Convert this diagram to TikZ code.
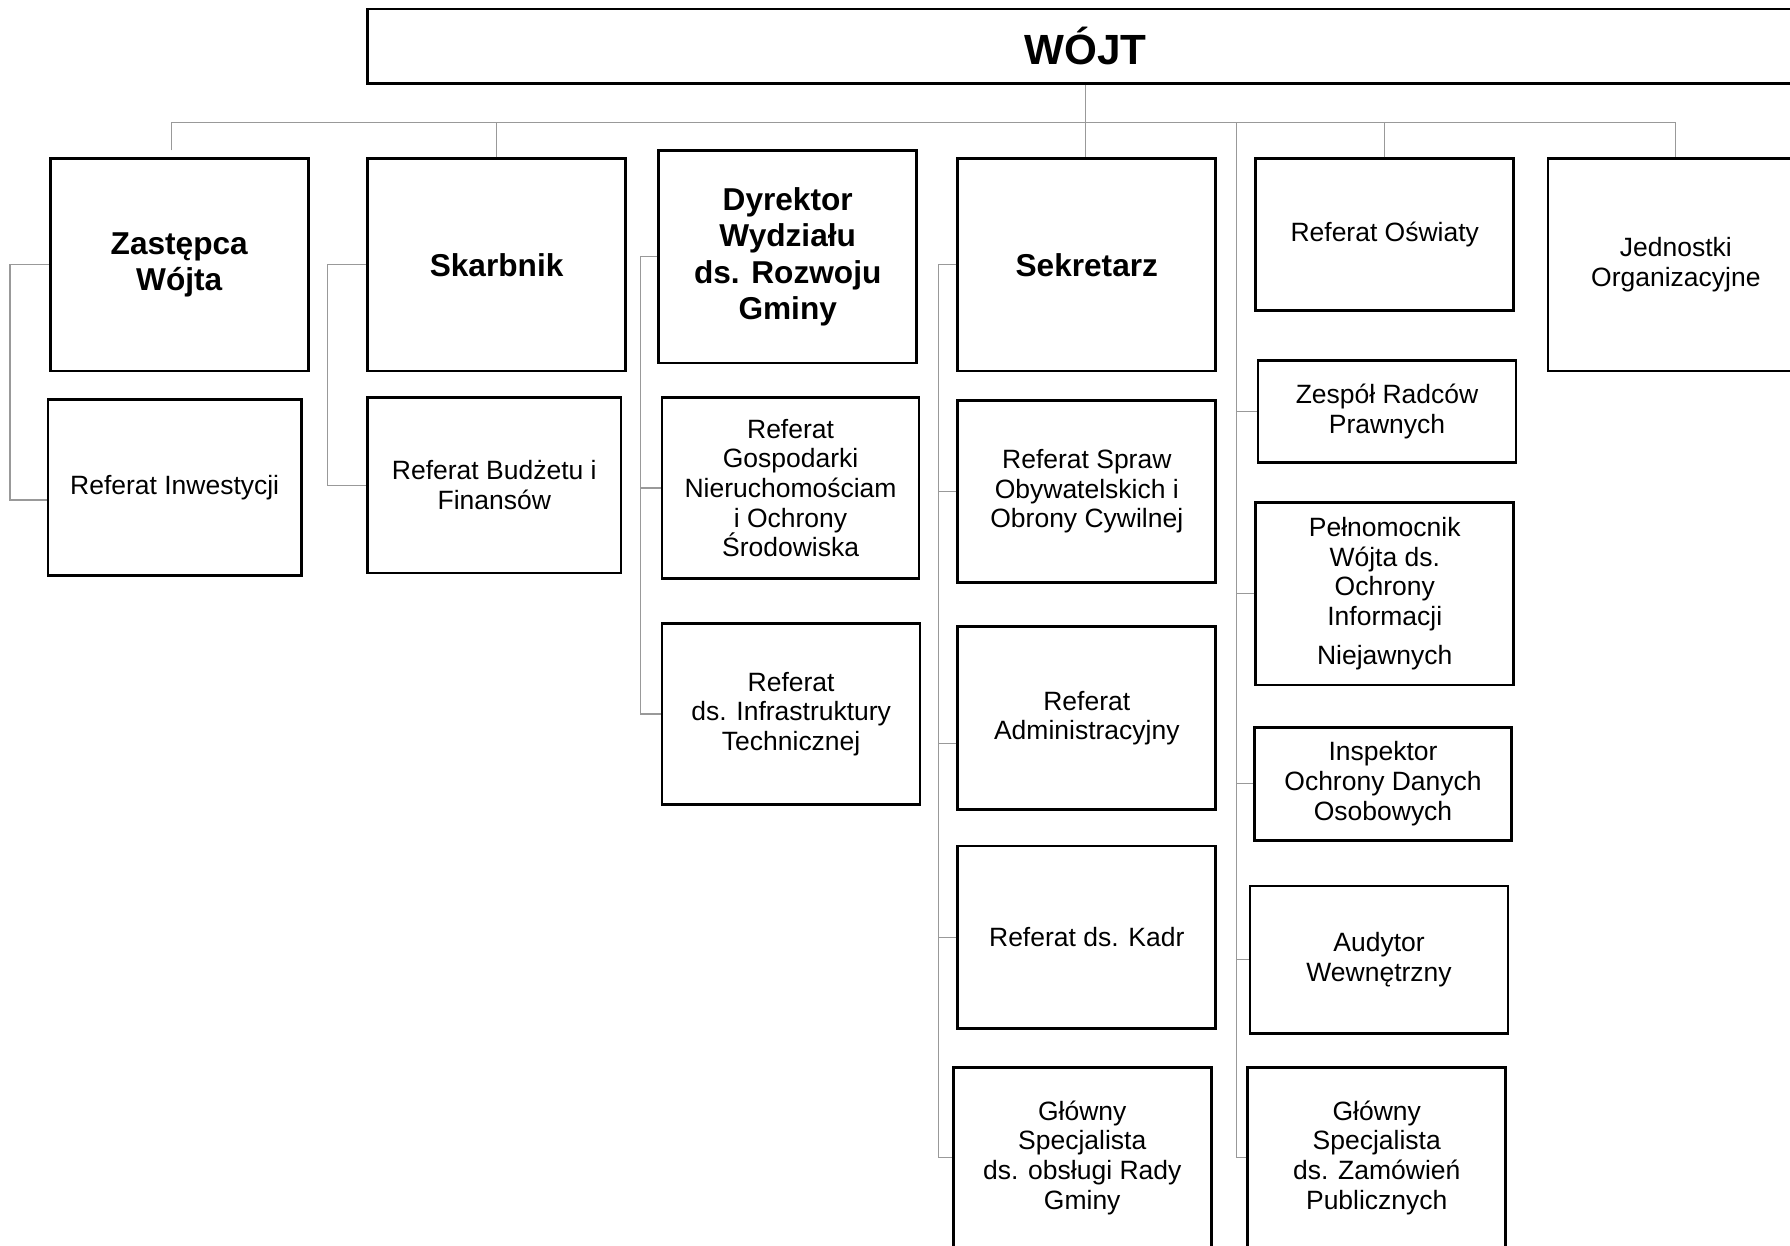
\documentclass[tikz,border=0pt]{standalone}
\usepackage{fontspec}
\setmainfont{Liberation Sans}
\usetikzlibrary{calc}

\begin{document}
\begin{tikzpicture}[
  x=1pt, y=-1pt,
  box/.style={rectangle, draw, line width=2.4pt, minimum width=226pt, align=center, inner sep=2pt,
    font=\fontsize{23.2}{26}\selectfont},
  head/.style={box, minimum height=186pt, font=\fontsize{27.7}{32}\selectfont\bfseries},
  link/.style={draw=black!40, line width=1.1pt}
]
  \useasboundingbox (0,0) rectangle (1568,1091);

  \node[box, minimum width=1258pt, minimum height=65pt, font=\fontsize{37}{40}\selectfont\bfseries] (wojt) at (951,40.5) {WÓJT};

  \node[head] (zastepca) at (157,232) {Zastępca\\Wójta};
  \node[head] (skarbnik) at (435,232) {Skarbnik};
  \node[head] (dyrektor) at (690,225) {Dyrektor\\Wydziału\\ds. Rozwoju\\Gminy};
  \node[head] (sekretarz) at (952,232) {Sekretarz};
  \node[box, minimum height=133pt] (oswiaty) at (1213,205.5) {Referat Oświaty};
  \node[box, minimum width=224pt, minimum height=186pt] (jednostki) at (1468,232) {Jednostki\\Organizacyjne};

  \node[box, minimum width=222pt, minimum height=154pt] (inwestycji) at (153,427) {Referat Inwestycji};
  \node[box, minimum width=222pt, minimum height=154pt] (budzetu) at (433,425) {Referat Budżetu i\\Finansów};

  \node[box, minimum width=225pt, minimum height=159pt] (gospodarki) at (692.5,427.5) {Referat\\Gospodarki\\Nieruchomościam\\i Ochrony\\Środowiska};
  \node[box, minimum height=159pt] (infra) at (693,625.5) {Referat\\ds. Infrastruktury\\Technicznej};

  \node[box, minimum height=159pt] (spraw) at (952,430.5) {Referat Spraw\\Obywatelskich i\\Obrony Cywilnej};
  \node[box, minimum height=160pt] (admin) at (952,629) {Referat\\Administracyjny};
  \node[box, minimum height=160pt] (kadr) at (952,821) {Referat ds. Kadr};
  \node[box, minimum height=158pt] (glownyR) at (948,1014) {Główny\\Specjalista\\ds. obsługi Rady\\Gminy};

  \node[box, minimum height=89pt] (zespol) at (1215,360.5) {Zespół Radców\\Prawnych};
  \node[box, minimum height=160pt] (pelnomocnik) at (1213,520) {Pełnomocnik\\Wójta ds.\\Ochrony\\Informacji\\[8pt]Niejawnych};
  \node[box, minimum width=225pt, minimum height=99pt] (inspektor) at (1211.5,686.5) {Inspektor\\Ochrony Danych\\Osobowych};
  \node[box, minimum height=129pt] (audytor) at (1208,840.5) {Audytor\\Wewnętrzny};
  \node[box, minimum height=158pt] (glownyZ) at (1206,1014) {Główny\\Specjalista\\ds. Zamówień\\Publicznych};

  \coordinate (bus) at (951,107);
  \coordinate (spine) at (1083,107);
  \coordinate (dsp) at ($(dyrektor.west)+(-15,0)$);
  \coordinate (ssp) at ($(sekretarz.west)+(-16,0)$);

  \draw[link] (wojt.south) -- (wojt.south |- sekretarz.north);
  \draw[link] ([xshift=-7pt,yshift=6pt]zastepca.north) |- (jednostki.north |- bus) -- (jednostki.north);
  \draw[link] (skarbnik.north) -- (skarbnik.north |- bus);
  \draw[link] (oswiaty.north) -- (oswiaty.north |- bus);

  \draw[link] (spine) -- (spine |- glownyZ.west);
  \foreach \n in {zespol, pelnomocnik, inspektor, audytor, glownyZ}
    \draw[link] (\n.west) -- (\n.west -| spine);

  \draw[link] (zastepca.west) -- ++(-34,0) |- ([yshift=-11pt]inwestycji.west);
  \draw[link] (skarbnik.west) -- ++(-34,0) |- (budzetu.west);

  \draw[link] (dyrektor.west) -- (dsp) |- (infra.west);
  \draw[link] (gospodarki.west) -- (gospodarki.west -| dsp);

  \draw[link] (sekretarz.west) -- (ssp) |- (glownyR.west);
  \foreach \n in {spraw, kadr}
    \draw[link] (\n.west) -- (\n.west -| ssp);
  \draw[link] ([yshift=-22pt]admin.west) -- ([yshift=-22pt]admin.west -| ssp);
\end{tikzpicture}
\end{document}
